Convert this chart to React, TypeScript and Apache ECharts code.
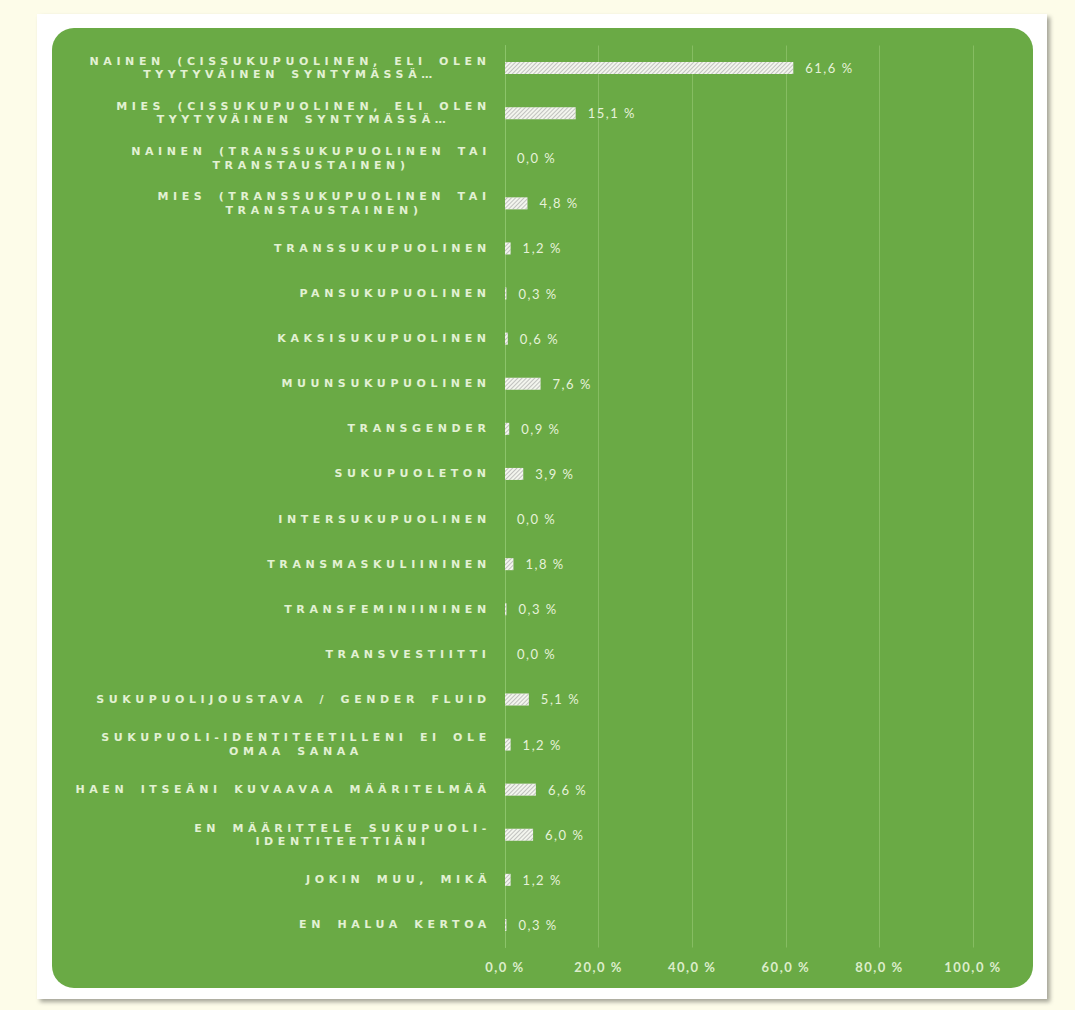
import React, { useEffect, useRef } from "react";
import * as echarts from "echarts";

const categories: string[] = [
  "NAINEN (CISSUKUPUOLINEN, ELI OLEN\nTYYTYVÄINEN SYNTYMÄSSÄ…",
  "MIES (CISSUKUPUOLINEN, ELI OLEN\nTYYTYVÄINEN SYNTYMÄSSÄ…",
  "NAINEN (TRANSSUKUPUOLINEN TAI\nTRANSTAUSTAINEN)",
  "MIES (TRANSSUKUPUOLINEN TAI\nTRANSTAUSTAINEN)",
  "TRANSSUKUPUOLINEN",
  "PANSUKUPUOLINEN",
  "KAKSISUKUPUOLINEN",
  "MUUNSUKUPUOLINEN",
  "TRANSGENDER",
  "SUKUPUOLETON",
  "INTERSUKUPUOLINEN",
  "TRANSMASKULIININEN",
  "TRANSFEMINIININEN",
  "TRANSVESTIITTI",
  "SUKUPUOLIJOUSTAVA / GENDER FLUID",
  "SUKUPUOLI-IDENTITEETILLENI EI OLE\nOMAA SANAA",
  "HAEN ITSEÄNI KUVAAVAA MÄÄRITELMÄÄ",
  "EN MÄÄRITTELE SUKUPUOLI-\nIDENTITEETTIÄNI",
  "JOKIN MUU, MIKÄ",
  "EN HALUA KERTOA",
];

const values: number[] = [
  61.6, 15.1, 0.0, 4.8, 1.2, 0.3, 0.6, 7.6, 0.9, 3.9, 0.0, 1.8, 0.3, 0.0, 5.1,
  1.2, 6.6, 6.0, 1.2, 0.3,
];

const xMin = 0;
const xMax = 100;
const xInterval = 20;

const fmtPct = (v: number) => v.toFixed(1).replace(".", ",") + " %";

const CAT_FONT_SIZE = 11;
const CAT_LS = 4.6;
const CAT_WS = 4;
const CAT_COLOR = "#e2f1d3";

export default function App() {
  const ref = useRef<HTMLDivElement>(null);

  useEffect(() => {
    if (!ref.current) return;
    const canvas = document.createElement("canvas");
    const ctx = canvas.getContext("2d")!;
    ctx.font = `bold ${CAT_FONT_SIZE}px "DejaVu Sans"`;
    const spacedWidth = (line: string) =>
      ctx.measureText(line).width +
      line.length * CAT_LS +
      (line.split(" ").length - 1) * CAT_WS;

    const rich: Record<string, any> = {};
    categories.forEach((c, i) => {
      const w = Math.max(...c.split("\n").map(spacedWidth));
      rich["r" + i] = {
        width: Math.ceil(w),
        align: "center",
        fontSize: CAT_FONT_SIZE,
        fontWeight: "bold",
        fontFamily: "DejaVu Sans",
        color: CAT_COLOR,
        lineHeight: 13.5,
      };
    });

    const chart = echarts.init(ref.current, undefined, { renderer: "svg" });
    chart.setOption({
      animation: false,
      backgroundColor: "#fdfce9",
      graphic: [
        {
          type: "rect",
          z: -20,
          shape: { x: 37, y: 14, width: 1010, height: 985 },
          style: {
            fill: "#ffffff",
            shadowColor: "rgba(0,0,0,0.35)",
            shadowBlur: 4,
            shadowOffsetX: 3,
            shadowOffsetY: 3,
          },
        },
        {
          type: "rect",
          z: -10,
          shape: { x: 52, y: 28, width: 981, height: 960, r: 22 },
          style: { fill: "#6aaa45" },
        },
      ],
      grid: { left: 505, right: 102, top: 45.5, bottom: 62.5, containLabel: false },
      xAxis: {
        type: "value",
        min: xMin,
        max: xMax,
        interval: xInterval,
        axisLine: { show: false },
        axisTick: { show: false },
        splitLine: { show: true, lineStyle: { color: "#86bd62", width: 1 } },
        axisLabel: {
          formatter: (v: number) => fmtPct(v),
          color: "#dcedcb",
          fontFamily: "Lato",
          fontWeight: "bold",
          fontSize: 13,
          margin: 13,
        },
      },
      yAxis: {
        type: "category",
        inverse: true,
        data: categories,
        axisLine: { show: true, lineStyle: { color: "#8cc46a", width: 1 } },
        axisTick: { show: false },
        axisLabel: {
          interval: 0,
          align: "right",
          margin: 14,
          formatter: (value: string, index: number) =>
            value
              .split("\n")
              .map((l) => `{r${index}|${l}}`)
              .join("\n"),
          rich,
        },
      },
      series: [
        {
          type: "bar",
          data: values,
          barWidth: 12,
          itemStyle: {
            color: "#f3f5ee",
            decal: {
              symbol: "rect",
              symbolSize: 1,
              color: "rgba(150,150,150,0.55)",
              dashArrayX: [1, 0],
              dashArrayY: [1, 2],
              rotation: -Math.PI / 4,
            },
          },
          label: {
            show: true,
            position: "right",
            distance: 12,
            formatter: (p: any) => fmtPct(p.value),
            color: "#e6f2da",
            fontFamily: "Lato",
            fontSize: 13,
          },
        },
      ],
    });
    return () => chart.dispose();
  }, []);

  return (
    <>
      <style>{`
        text[style*="DejaVu"] { letter-spacing: ${CAT_LS}px; word-spacing: ${CAT_WS}px; }
        text[style*="Lato"] { letter-spacing: 1.5px; }
      `}</style>
      <div
        ref={ref}
        style={{ position: "fixed", left: 0, top: 0, width: 1075, height: 1010 }}
      />
    </>
  );
}
